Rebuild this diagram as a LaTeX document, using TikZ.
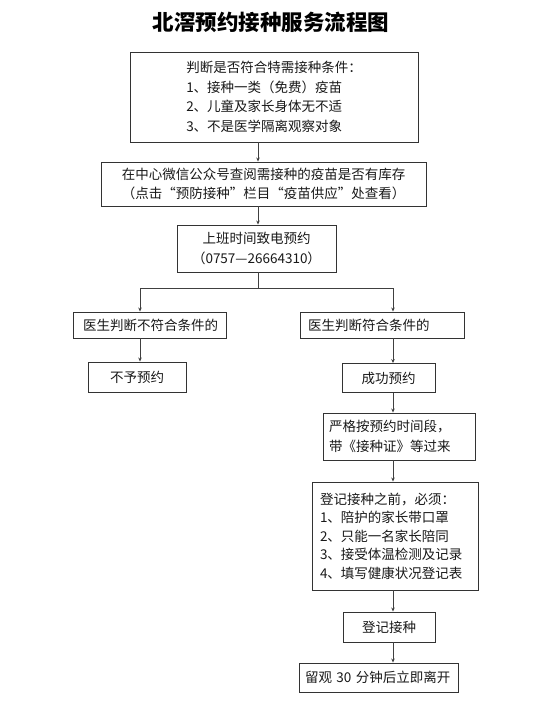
\documentclass[tikz,border=0pt]{standalone}
\usepackage{fontspec}
\setmainfont{Noto Sans CJK SC}
\usetikzlibrary{arrows.meta}
\begin{document}
\begin{tikzpicture}[x=1pt,y=-1pt,
  box/.style={draw=black!80, line width=0.9pt, inner sep=0pt, font=\fontsize{13.5}{19.5}\selectfont, text=black!90},
  lbox/.style={box, align=left, inner xsep=#1},
  arr/.style={draw=black!75, line width=0.8pt, -{Stealth[length=4pt,width=3.5pt]}},
  ln/.style={draw=black!75, line width=0.8pt}]
\useasboundingbox (0,0) rectangle (535,709);
\fill[white] (0,0) rectangle (535,709);
\node[font=\fontsize{21.5}{24}\selectfont\bfseries] (title) at (271,22) {北滘预约接种服务流程图};
\coordinate (spine) at (258,0);
\coordinate (lcol) at (140,0);
\coordinate (rcol) at (393,0);
\node[box, minimum width=288pt, minimum height=90pt, align=left] (b1) at (274,97)
  {判断是否符合特需接种条件：\\1、接种一类（免费）疫苗\\2、儿童及家长身体无不适\\3、不是医学隔离观察对象};
\node[box, minimum width=325pt, minimum height=44pt, align=center] (b2) at (263.5,184)
  {在中心微信公众号查阅需接种的疫苗是否有库存\\（点击“预防接种”栏目“疫苗供应”处查看）};
\node[box, minimum width=159pt, minimum height=47pt, align=center] (b3) at (256.5,248.5)
  {上班时间致电预约\\（0757—26664310）};
\node[lbox=10pt, text width=133pt, minimum height=26pt] (b4) at (149.5,325) {医生判断不符合条件的};
\node[lbox=8pt, text width=148pt, minimum height=26pt] (b5) at (382,325) {医生判断符合条件的};
\node[box, minimum width=98pt, minimum height=30pt] (b6) at (137,377) {不予预约};
\node[box, minimum width=93pt, minimum height=29pt] (b7) at (388.5,378) {成功预约};
\node[lbox=6pt, text width=140pt, minimum height=47pt] (b8) at (399,436.5)
  {严格按预约时间段，\\带《接种证》等过来};
\node[lbox=8pt, text width=150pt, minimum height=108pt, font=\fontsize{13.5}{18.5}\selectfont] (b9) at (395,536)
  {登记接种之前，必须：\\1、陪护的家长带口罩\\2、只能一名家长陪同\\3、接受体温检测及记录\\4、填写健康状况登记表};
\node[box, minimum width=92pt, minimum height=30pt] (b10) at (389,627) {登记接种};
\node[lbox=6pt, text width=147pt, minimum height=29pt] (b11) at (378.5,677.5) {\mbox{留观 30 分钟后立即离开}};
\coordinate (bj) at (258,288);
\draw[arr] (b1.south -| spine) -- (b2.north -| spine);
\draw[arr] (b2.south -| spine) -- (b3.north -| spine);
\draw[ln] (b3.south -| spine) -- (bj);
\draw[ln] (bj -| lcol) -- (bj -| rcol);
\draw[arr] (bj -| lcol) -- (b4.north -| lcol);
\draw[arr] (bj -| rcol) -- (b5.north -| rcol);
\draw[arr] (b4.south -| lcol) -- (b6.north -| lcol);
\draw[arr] (b5.south -| rcol) -- (b7.north -| rcol);
\draw[arr] (b7.south -| rcol) -- (b8.north -| rcol);
\draw[arr] (b8.south -| rcol) -- (b9.north -| rcol);
\draw[arr] (b9.south -| rcol) -- (b10.north -| rcol);
\draw[arr] (b10.south -| rcol) -- (b11.north -| rcol);
\end{tikzpicture}
\end{document}
